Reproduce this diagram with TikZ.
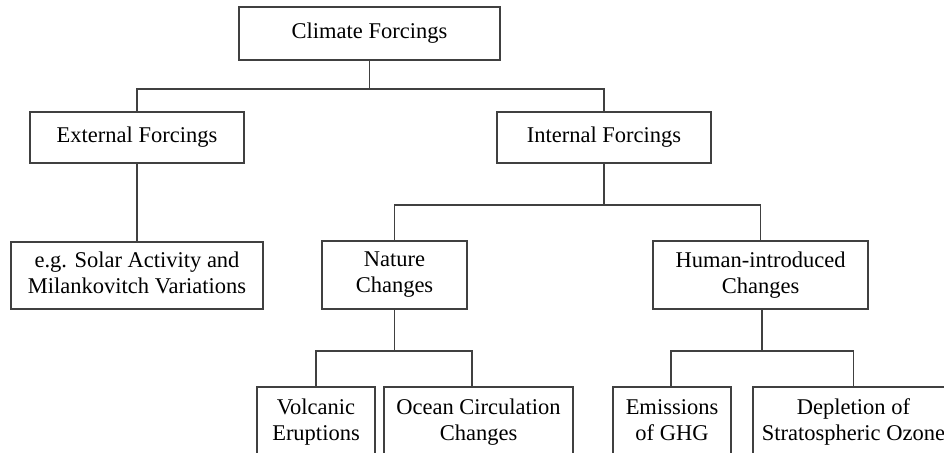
\documentclass[tikz,border=0pt]{standalone}
\usepackage{fontspec}
\setmainfont{Liberation Serif}
\begin{document}
\begin{tikzpicture}[x=1pt,y=-1pt,
  every node/.style={font=\fontsize{22.5}{26}\selectfont, text=black},
  box/.style={draw=black!75, line width=1.1pt, fill=white, inner sep=0pt, align=center},
  link/.style={draw=black!75, line width=1.1pt}]
\clip (0,0) rectangle (944,452);
\fill[white] (0,0) rectangle (944,452);

% top level
\node[box, minimum width=261pt, minimum height=53pt] (climate) at (369.5,33.5) {Climate Forcings};

% second level
\node[box, minimum width=214pt, minimum height=51pt] (external) at (137,137.5) {External Forcings};
\node[box, minimum width=214pt, minimum height=51pt] (internal) at (604,137.5) {Internal Forcings};

% third level
\node[box, minimum width=252pt, minimum height=67pt] (solar) at (137,275.5) {e.g. Solar Activity and\\Milankovitch Variations\vphantom{g}};
\node[box, minimum width=145pt, minimum height=68pt] (nature) at (394.5,275) {Nature\\Changes};
\node[box, minimum width=215pt, minimum height=68pt] (human) at (760.5,275) {Human-introduced\\Changes};

% fourth level (runs past the lower edge)
\node[box, minimum width=118pt, minimum height=70pt] (volcanic) at (316,422) {Volcanic\\Eruptions};
\node[box, minimum width=189pt, minimum height=70pt] (ocean) at (478.5,422) {Ocean Circulation\\Changes};
\node[box, minimum width=118pt, minimum height=70pt] (emissions) at (672,422) {Emissions\\of GHG\vphantom{p}};
\node[box, minimum width=201pt, minimum height=70pt] (depletion) at (853.5,422) {Depletion of\\Stratospheric Ozone};

% junction points of the tree
\coordinate (j1) at (369.5,89);
\coordinate (j2) at (604,205);
\coordinate (j3) at (394.5,351);
\coordinate (j4) at (762,351);

% connectors
\draw[link] (climate.south) -- (j1);
\draw[link] (external.north) |- (j1) -| (internal.north);
\draw[link] (external.south) -- (solar.north);

\draw[link] (internal.south) -- (j2);
\draw[link] (nature.north) |- (j2) -| (human.north);

\draw[link] (nature.south) -- (j3);
\draw[link] (volcanic.north) |- (j3) -| ([xshift=-6.5pt]ocean.north);

\draw[link] ([xshift=1.5pt]human.south) -- (j4);
\draw[link] ([xshift=-1pt]emissions.north) |- (j4) -| (depletion.north);
\end{tikzpicture}
\end{document}
